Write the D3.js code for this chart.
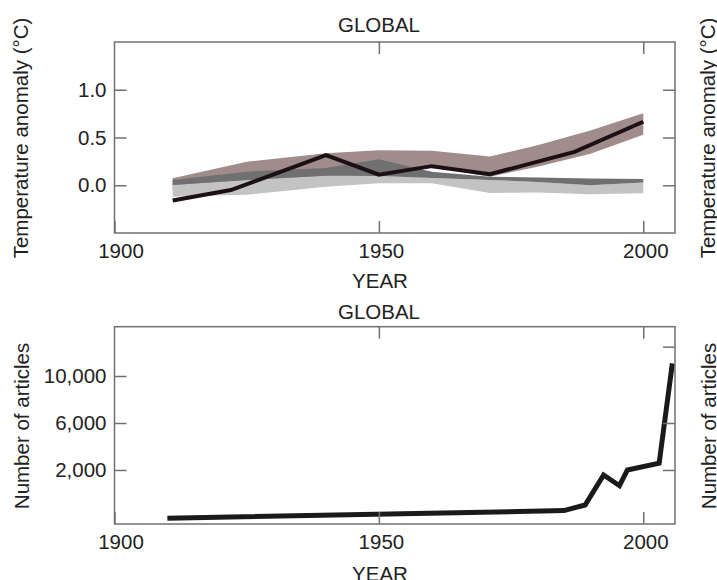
<!DOCTYPE html>
<html>
<head>
<meta charset="utf-8">
<script src="https://cdn.jsdelivr.net/npm/d3@7"></script>
<style>
  body { margin: 0; background: #fff; }
  svg { display: block; }
  text { font-family: 'Liberation Sans', Arial, Helvetica, sans-serif; fill: #222; }
</style>
</head>
<body>
<svg id="chart" width="717" height="580"></svg>
<script>
// temperature panel
const bandYears = [1911, 1925, 1940, 1950, 1960, 1971, 1980, 1990, 2000];
const allForcingLow = [-0.05, 0.0, 0.1, 0.125, 0.19, 0.09, 0.195, 0.33, 0.53];
const allForcingHigh = [0.073, 0.245, 0.335, 0.366, 0.36, 0.3, 0.42, 0.572, 0.753];
const darkBandLow = [0.003, 0.055, 0.1, 0.097, 0.076, 0.055, 0.035, 0.0, 0.03];
const darkBandHigh = [0.055, 0.142, 0.18, 0.272, 0.142, 0.09, 0.08, 0.07, 0.065];
const lightBandLow = [-0.12, -0.1, -0.015, 0.02, 0.02, -0.08, -0.075, -0.095, -0.084];

const obsYears = [1911, 1922, 1940, 1950, 1960, 1971, 1987, 2000];
const obsAnomaly = [-0.16, -0.05, 0.315, 0.11, 0.2, 0.115, 0.35, 0.665];

// articles panel
const articleYears = [1910, 1985, 1989, 1992.5, 1995.5, 1997, 2003, 2005.5];
const articleCounts = [-2110, -1460, -980, 1570, 660, 2000, 2570, 11080];

// ticks
const yearTicks = [1900, 1950, 2000];
const innerYearTicks = [1950, 2000];
const anomalyTicks = [0.0, 0.5, 1.0];
const articleTicks = [2000, 6000, 10000];
const articleRightTicks = [2000, 6000, 12500];

const fontSize = 20.5;
const frameColor = '#707070';
const left = 114.5, right = 675;

const svg = d3.select('#chart');

const x = d3.scaleLinear().domain([1900, 2006]).range([left, right]);

function frame(top, bottom) {
  svg.append('rect')
    .attr('x', left).attr('y', top)
    .attr('width', right - left).attr('height', bottom - top)
    .attr('fill', 'none')
    .attr('stroke', frameColor)
    .attr('stroke-width', 1.5);
}

function styleAxis(g) {
  g.select('.domain').remove();
  g.selectAll('line').attr('stroke', frameColor).attr('stroke-width', 1.5);
  g.selectAll('text')
    .style('font-family', "'Liberation Sans', Arial, Helvetica, sans-serif")
    .style('font-size', fontSize + 'px')
    .attr('fill', '#222');
}

function panel(top, bottom, y, leftTicks, rightTicks, fmt) {
  svg.append('g')
    .attr('transform', `translate(0,${bottom})`)
    .call(d3.axisBottom(x).tickValues(yearTicks).tickSize(-12).tickPadding(10.5).tickFormat(d3.format('d')))
    .call(styleAxis)
    .call(g => g.selectAll('text').attr('dx', d => d === 1900 ? 6 : 2));

  svg.append('g')
    .attr('transform', `translate(0,${top})`)
    .call(d3.axisTop(x).tickValues(innerYearTicks).tickSize(-12).tickFormat(''))
    .call(styleAxis);

  svg.append('g')
    .attr('transform', `translate(${left},0)`)
    .call(d3.axisLeft(y).tickValues(leftTicks).tickSize(-12).tickPadding(8).tickFormat(fmt))
    .call(styleAxis);

  svg.append('g')
    .attr('transform', `translate(${right},0)`)
    .call(d3.axisRight(y).tickValues(rightTicks).tickSize(-12).tickFormat(''))
    .call(styleAxis);

  frame(top, bottom);
}

function label(txt, px, py, rotate) {
  svg.append('text')
    .attr('transform', `translate(${px},${py})` + (rotate ? ' rotate(-90)' : ''))
    .attr('text-anchor', 'middle')
    .style('font-size', fontSize + 'px')
    .text(txt);
}

// ---- top panel
const yT = d3.scaleLinear().domain([-0.5, 1.5]).range([233, 42]);

const band = (lo, hi) => d3.area()
  .x((d, i) => x(bandYears[i]))
  .y0((d, i) => yT(lo[i]))
  .y1((d, i) => yT(hi[i]))(bandYears);

svg.append('path').attr('d', band(allForcingLow, allForcingHigh)).attr('fill', '#a08c8b');
svg.append('path').attr('d', band(lightBandLow, darkBandLow)).attr('fill', '#c3c3c3');
svg.append('path').attr('d', band(darkBandLow, darkBandHigh)).attr('fill', '#707070');

svg.append('path')
  .attr('d', d3.line().x((d, i) => x(obsYears[i])).y(d => yT(d))(obsAnomaly))
  .attr('fill', 'none')
  .attr('stroke', '#1c1016')
  .attr('stroke-width', 4);

panel(42, 233, yT, anomalyTicks, anomalyTicks, d3.format('.1f'));

label('GLOBAL', 379, 32);
label('YEAR', 380, 288);
label('Temperature anomaly (\u00B0C)', 28, 138, true);
label('Temperature anomaly (\u00B0C)', 715, 138, true);

// ---- bottom panel
const yB = d3.scaleLinear().domain([-2600, 14200]).range([524, 326.7]);

svg.append('path')
  .attr('d', d3.line().x((d, i) => x(articleYears[i])).y(d => yB(d))(articleCounts))
  .attr('fill', 'none')
  .attr('stroke', '#1a1a1a')
  .attr('stroke-width', 5);

panel(326.7, 524, yB, articleTicks, articleRightTicks, d3.format(','));

label('GLOBAL', 379, 319);
label('YEAR', 380, 581);
label('Number of articles', 29, 426, true);
label('Number of articles', 716, 426, true);
</script>
</body>
</html>
